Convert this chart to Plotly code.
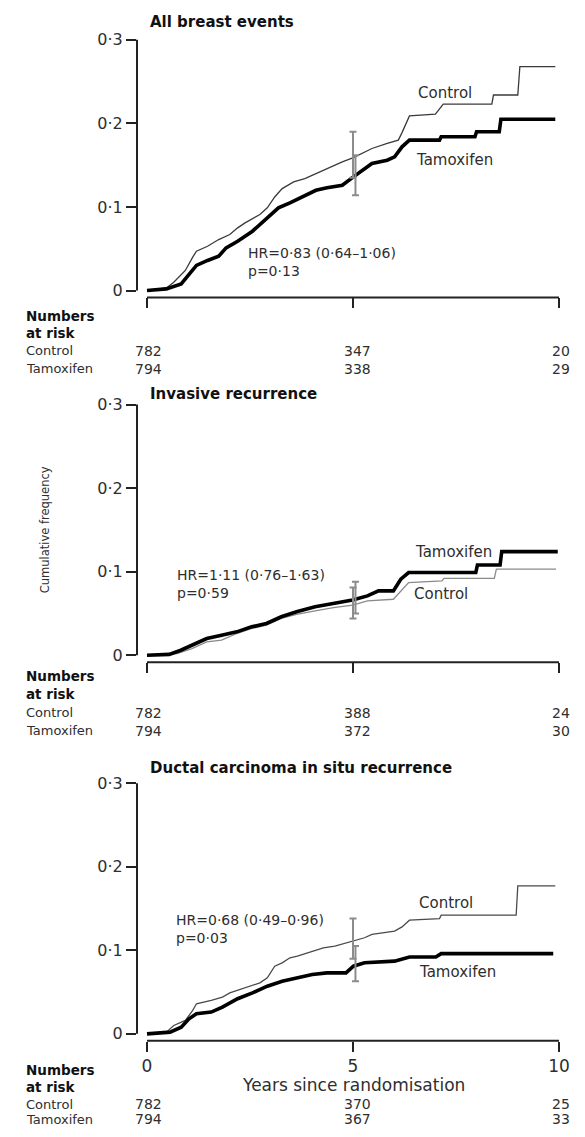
import plotly.graph_objects as go

# The page body has an 8px margin, so the figure is laid out in page pixels minus 8.
OFF = 8
W, H = 585 - 2 * OFF, 1137 - 2 * OFF
FONT = "DejaVu Sans"
TXT = "#2e2e2e"

# ---------------- data ----------------
titles = ["All breast events", "Invasive recurrence", "Ductal carcinoma in situ recurrence"]
arms = ["Control", "Tamoxifen"]
risk_times = [0, 5, 10]

# Panel 1: all breast events
p1_ctrl_t = [0, 0.47, 0.65, 0.93, 1.11, 1.20, 1.47, 1.74, 2.01, 2.20, 2.38, 2.74, 2.92, 3.10, 3.28, 3.56,
             3.83, 4.10, 4.37, 4.74, 5.01, 5.28, 5.46, 5.83, 6.10, 6.19, 6.37, 7.00, 7.19, 8.37, 8.41, 9.00, 9.05, 9.91]
p1_ctrl_y = [0, 0.003, 0.010, 0.024, 0.040, 0.047, 0.053, 0.061, 0.067, 0.075, 0.081, 0.091, 0.099, 0.112, 0.122, 0.130,
             0.134, 0.140, 0.146, 0.154, 0.159, 0.166, 0.170, 0.176, 0.180, 0.189, 0.209, 0.211, 0.223, 0.223, 0.234, 0.234, 0.268, 0.268]
p1_tam_t = [0, 0.47, 0.83, 1.02, 1.20, 1.47, 1.74, 1.92, 2.20, 2.56, 2.74, 3.01, 3.19, 3.47, 3.83, 4.10,
            4.37, 4.74, 5.01, 5.28, 5.46, 5.83, 6.01, 6.19, 6.37, 7.10, 7.14, 7.96, 8.00, 8.55, 8.59, 9.91]
p1_tam_y = [0, 0.002, 0.008, 0.020, 0.030, 0.036, 0.041, 0.051, 0.059, 0.071, 0.079, 0.091, 0.099, 0.105, 0.114, 0.120,
            0.123, 0.126, 0.136, 0.146, 0.152, 0.156, 0.160, 0.172, 0.180, 0.180, 0.184, 0.184, 0.190, 0.190, 0.205, 0.205]
p1_ci_mid = [0.160, 0.137]
p1_ci_lo = [0.135, 0.114]
p1_ci_hi = [0.190, 0.162]
p1_risk_ctrl = [782, 347, 20]
p1_risk_tam = [794, 338, 29]
p1_hr = "HR=0·83 (0·64–1·06)"
p1_p = "p=0·13"

# Panel 2: invasive recurrence
p2_ctrl_t = [0, 0.73, 1.09, 1.45, 1.81, 2.18, 2.54, 2.90, 3.26, 3.63, 4.08, 4.53, 4.99, 5.35, 5.98, 6.16,
             6.35, 7.16, 7.21, 8.43, 8.48, 9.93]
p2_ctrl_y = [0, 0.002, 0.008, 0.016, 0.018, 0.026, 0.032, 0.036, 0.044, 0.049, 0.053, 0.057, 0.060, 0.065, 0.067, 0.077,
             0.087, 0.089, 0.092, 0.092, 0.103, 0.103]
p2_tam_t = [0, 0.54, 0.82, 1.09, 1.45, 1.81, 2.18, 2.54, 2.90, 3.26, 3.63, 4.08, 4.53, 4.99, 5.35, 5.62,
            5.98, 6.16, 6.35, 7.98, 8.02, 8.57, 8.61, 9.97]
p2_tam_y = [0, 0.001, 0.006, 0.012, 0.020, 0.024, 0.028, 0.034, 0.038, 0.046, 0.052, 0.058, 0.062, 0.066, 0.071, 0.077,
            0.077, 0.091, 0.099, 0.099, 0.108, 0.108, 0.124, 0.124]
p2_ci_mid = [0.063, 0.068]
p2_ci_lo = [0.044, 0.050]
p2_ci_hi = [0.081, 0.088]
p2_risk_ctrl = [782, 388, 24]
p2_risk_tam = [794, 372, 30]
p2_hr = "HR=1·11 (0·76–1·63)"
p2_p = "p=0·59"

# Panel 3: DCIS recurrence
p3_ctrl_t = [0, 0.47, 0.65, 0.93, 1.11, 1.20, 1.56, 1.83, 2.01, 2.38, 2.74, 2.92, 3.10, 3.28, 3.47, 3.65,
             3.92, 4.28, 4.56, 4.98, 5.28, 5.46, 6.01, 6.19, 6.37, 7.10, 7.14, 8.96, 9.00, 9.91]
p3_ctrl_y = [0, 0.002, 0.010, 0.016, 0.028, 0.036, 0.040, 0.044, 0.049, 0.055, 0.061, 0.067, 0.081, 0.085, 0.091, 0.093,
             0.097, 0.103, 0.105, 0.111, 0.115, 0.119, 0.123, 0.128, 0.136, 0.138, 0.142, 0.142, 0.177, 0.177]
p3_tam_t = [0, 0.56, 0.83, 1.02, 1.20, 1.56, 1.83, 2.20, 2.56, 2.92, 3.28, 3.65, 4.01, 4.37, 4.83, 5.01,
            5.28, 6.01, 6.37, 7.01, 7.14, 9.86]
p3_tam_y = [0, 0.002, 0.008, 0.018, 0.024, 0.026, 0.032, 0.042, 0.049, 0.057, 0.063, 0.067, 0.071, 0.073, 0.073, 0.081,
            0.085, 0.087, 0.092, 0.092, 0.096, 0.096]
p3_ci_mid = [0.113, 0.083]
p3_ci_lo = [0.090, 0.063]
p3_ci_hi = [0.138, 0.105]
p3_risk_ctrl = [782, 370, 25]
p3_risk_tam = [794, 367, 33]
p3_hr = "HR=0·68 (0·49–0·96)"
p3_p = "p=0·03"

ytick_vals = [0, 0.1, 0.2, 0.3]
ytick_text = ["0", "0·1", "0·2", "0·3"]
xtick_vals = [0, 5, 10]
xtick_text = ["0", "5", "10"]
x_title = "Years since randomisation"
y_title = "Cumulative frequency"
risk_head = ["Numbers", "at risk"]

panels = [
    dict(ct=p1_ctrl_t, cy=p1_ctrl_y, tt=p1_tam_t, ty=p1_tam_y, mid=p1_ci_mid, lo=p1_ci_lo, hi=p1_ci_hi,
         rc=p1_risk_ctrl, rt=p1_risk_tam, hr=p1_hr, p=p1_p),
    dict(ct=p2_ctrl_t, cy=p2_ctrl_y, tt=p2_tam_t, ty=p2_tam_y, mid=p2_ci_mid, lo=p2_ci_lo, hi=p2_ci_hi,
         rc=p2_risk_ctrl, rt=p2_risk_tam, hr=p2_hr, p=p2_p),
    dict(ct=p3_ctrl_t, cy=p3_ctrl_y, tt=p3_tam_t, ty=p3_tam_y, mid=p3_ci_mid, lo=p3_ci_lo, hi=p3_ci_hi,
         rc=p3_risk_ctrl, rt=p3_risk_tam, hr=p3_hr, p=p3_p),
]

# ---------------- layout geometry (page pixels) ----------------
X0_PX, X10_PX = 147, 559          # page pixel of year 0 and year 10
PX_PER_YR = (X10_PX - X0_PX) / 10
LEFT_PX, RIGHT_PX = 137, 575
ZERO_PX = [286, 654, 1036]         # page pixel of y=0 per panel
PX_PER_UNIT = 843                  # pixels per 1.0 of cumulative frequency
AXIS_GAP = 7                       # x-axis line below y=0
TITLE_PX = [15, 390, 768]
ROWS_PX = [[312, 329, 347, 365], [675, 693, 712, 730], [1073, 1090, 1107, 1122]]
LABEL_X_PX = 24
TITLE_X_PX = 148

# label positions (years, value at vertical centre of the two-line HR block)
hr_pos = [(2.40, 0.034), (0.68, 0.085), (0.65, 0.126)]
ctrl_lab = [(6.53, 0.236), (6.44, 0.073), (6.55, 0.157)]
tam_lab = [(6.49, 0.156), (6.46, 0.123), (6.55, 0.074)]
ctrl_col = ["#3a3a3a", "#8a8a8a", "#4a4a4a"]


def xpaper(px):
    return (px - OFF) / W


def ypaper(py):
    return 1 - (py - OFF) / H


fig = go.Figure()
xr = [(LEFT_PX - X0_PX) / PX_PER_YR, (RIGHT_PX - X0_PX) / PX_PER_YR]
annots = []
shapes = []

for i, pn in enumerate(panels):
    sfx = "" if i == 0 else str(i + 1)
    xa, ya = "x" + sfx, "y" + sfx
    bottom_px = ZERO_PX[i] + AXIS_GAP
    top_px = ZERO_PX[i] - 0.3 * PX_PER_UNIT - 2
    yr = [-AXIS_GAP / PX_PER_UNIT, (ZERO_PX[i] - top_px) / PX_PER_UNIT]

    fig.add_trace(go.Scatter(x=pn["ct"], y=pn["cy"], mode="lines", xaxis=xa, yaxis=ya,
                             line=dict(color=ctrl_col[i], width=1.3), showlegend=False, name=arms[0]))
    fig.add_trace(go.Scatter(x=pn["tt"], y=pn["ty"], mode="lines", xaxis=xa, yaxis=ya,
                             line=dict(color="#000000", width=3.6), showlegend=False, name=arms[1]))
    # 5-year confidence intervals
    for k, xoff in enumerate([5.0, 5.06]):
        fig.add_trace(go.Scatter(x=[xoff], y=[pn["mid"][k]], mode="markers", xaxis=xa, yaxis=ya,
                                 marker=dict(size=1, color="rgba(0,0,0,0)"), showlegend=False,
                                 error_y=dict(type="data", symmetric=False,
                                              array=[pn["hi"][k] - pn["mid"][k]],
                                              arrayminus=[pn["mid"][k] - pn["lo"][k]],
                                              color="#8c8c8c", thickness=2, width=3.5)))

    fig.update_layout(**{
        "xaxis" + sfx: dict(domain=[xpaper(LEFT_PX), xpaper(RIGHT_PX)], range=xr, anchor=ya,
                            tickvals=xtick_vals, ticktext=xtick_text, showticklabels=(i == 2),
                            ticks="outside", ticklen=10, tickwidth=2, tickcolor="#222",
                            showgrid=False, zeroline=False, showline=False,
                            tickfont=dict(family=FONT, size=17, color=TXT)),
        "yaxis" + sfx: dict(domain=[ypaper(bottom_px), ypaper(top_px)], range=yr, anchor=xa,
                            tickvals=ytick_vals, ticktext=ytick_text,
                            ticks="outside", ticklen=10, tickwidth=2, tickcolor="#222",
                            showgrid=False, zeroline=False, showline=False,
                            tickfont=dict(family=FONT, size=16, color=TXT)),
    })
    # axis lines
    shapes.append(dict(type="line", xref=xa + " domain", yref=ya, x0=0, x1=0, y0=0, y1=0.3,
                       line=dict(color="#222", width=2)))
    shapes.append(dict(type="line", xref=xa, yref=ya + " domain", x0=0, x1=10, y0=0, y1=0,
                       line=dict(color="#222", width=2)))

    # title
    annots.append(dict(text="<b>" + titles[i] + "</b>", xref="paper", yref="paper",
                       x=xpaper(TITLE_X_PX), y=ypaper(TITLE_PX[i]), xanchor="left", yanchor="middle",
                       showarrow=False, font=dict(family=FONT, size=15, color="#111")))
    # HR and p (one two-line block)
    hx, hy = hr_pos[i]
    annots.append(dict(text=pn["hr"] + "<br>" + pn["p"], xref=xa, yref=ya, x=hx, y=hy,
                       xanchor="left", yanchor="middle", align="left",
                       showarrow=False, font=dict(family=FONT, size=14, color=TXT)))
    # curve labels
    annots.append(dict(text=arms[0], xref=xa, yref=ya, x=ctrl_lab[i][0], y=ctrl_lab[i][1],
                       xanchor="left", yanchor="middle", showarrow=False,
                       font=dict(family=FONT, size=15, color=TXT)))
    annots.append(dict(text=arms[1], xref=xa, yref=ya, x=tam_lab[i][0], y=tam_lab[i][1],
                       xanchor="left", yanchor="middle", showarrow=False,
                       font=dict(family=FONT, size=15, color=TXT)))
    # numbers at risk
    rows = ROWS_PX[i]
    for j, head in enumerate(risk_head):
        annots.append(dict(text="<b>" + head + "</b>", xref="paper", yref="paper", x=xpaper(LABEL_X_PX),
                           y=ypaper(rows[j]), xanchor="left", yanchor="middle", showarrow=False,
                           font=dict(family=FONT, size=13.5, color="#111")))
    for j, (arm, vals) in enumerate([(arms[0], pn["rc"]), (arms[1], pn["rt"])]):
        yy = ypaper(rows[2 + j])
        annots.append(dict(text=arm, xref="paper", yref="paper", x=xpaper(LABEL_X_PX), y=yy,
                           xanchor="left", yanchor="middle", showarrow=False,
                           font=dict(family=FONT, size=13, color=TXT)))
        for t, v, xs in zip(risk_times, vals, [1, 4, 2]):
            annots.append(dict(text=str(v), xref=xa, yref="paper", x=t, y=yy, xshift=xs,
                               xanchor="center", yanchor="middle", showarrow=False,
                               font=dict(family=FONT, size=14, color=TXT)))

# axis titles
annots.append(dict(text=x_title, xref="x3", yref="paper", x=5, y=ypaper(1088), xanchor="center",
                   yanchor="middle", showarrow=False, font=dict(family=FONT, size=17, color=TXT)))
annots.append(dict(text=y_title, xref="paper", yref="paper", x=xpaper(45), y=ypaper(528), xanchor="center",
                   yanchor="middle", textangle=-90, showarrow=False,
                   font=dict(family=FONT, size=11.5, color=TXT)))

fig.update_layout(width=W, height=H, margin=dict(l=0, r=0, t=0, b=0),
                  paper_bgcolor="white", plot_bgcolor="white",
                  annotations=annots, shapes=shapes)

fig.write_html("out.html")
